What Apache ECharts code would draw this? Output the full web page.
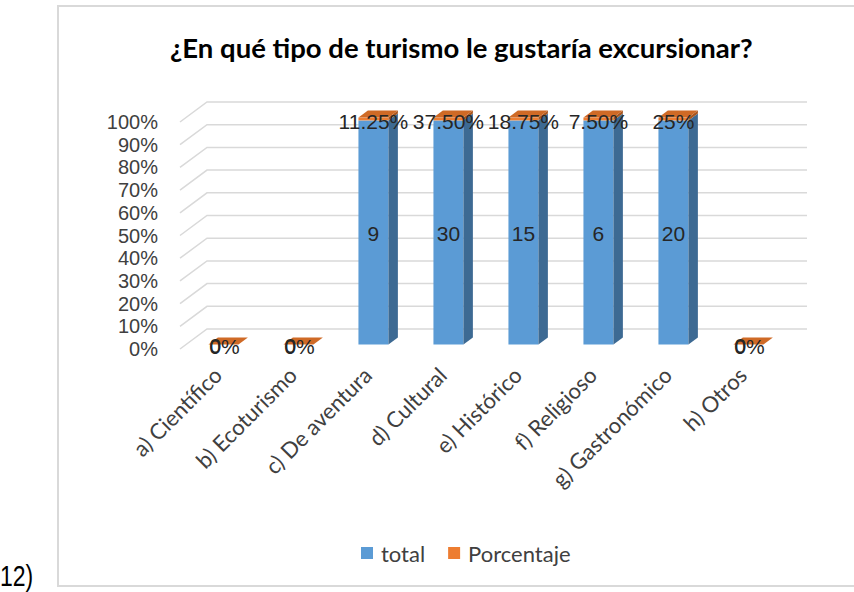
<!DOCTYPE html>
<html><head><meta charset="utf-8">
<script src="https://cdn.jsdelivr.net/npm/echarts@6/dist/echarts.min.js"></script>
<style>html,body{margin:0;padding:0;background:#fff}#c{width:854px;height:592px}</style>
</head><body><div id="c"></div>
<script>
const categories = ['a) Científico','b) Ecoturismo','c) De aventura','d) Cultural','e) Histórico','f) Religioso','g) Gastronómico','h) Otros'];
const totalValues = [0, 0, 9, 30, 15, 6, 20, 0];
const percentValues = [0, 0, 0.1125, 0.375, 0.1875, 0.075, 0.25, 0];
const percentLabels = ['0%', '0%', '11.25%', '37.50%', '18.75%', '7.50%', '25%', '0%'];
const yTicks = [0, 10, 20, 30, 40, 50, 60, 70, 80, 90, 100];

// 100% stacked shares
const totalShare = totalValues.map((t, i) => (t + percentValues[i]) > 0 ? t / (t + percentValues[i]) * 100 : 0);
const stackEnd = totalValues.map((t, i) => (t + percentValues[i]) > 0 ? 100 : 0);

const DEPTH_DX = 27, DEPTH_DY = -20;     // full floor depth projection
const FRONT = 0.22, THICK = 0.35;        // bar position within depth

function barGeom(api) {
  const i = api.value(0), s = api.value(1), e = api.value(2);
  const c0 = api.coord([i, s]), c1 = api.coord([i, e]);
  const band = api.size([1, 0])[0];
  const w = band * 0.4;
  const fx = FRONT * DEPTH_DX, fy = FRONT * DEPTH_DY;
  const dx = THICK * DEPTH_DX, dy = THICK * DEPTH_DY;
  const xl = c0[0] - w / 2 + fx, xr = xl + w;
  const yb = c0[1] + fy, yt = c1[1] + fy;
  return {xl, xr, yb, yt, dx, dy, w};
}

function makeBar(front, side, topColor, isTop) {
  return function (params, api) {
    const g = barGeom(api);
    const ch = [];
    if (g.yb - g.yt > 0.01) {
      ch.push({type: 'rect', shape: {x: g.xl, y: g.yt, width: g.w, height: g.yb - g.yt}, style: {fill: front}});
      ch.push({type: 'polygon', shape: {points: [[g.xr, g.yt], [g.xr + g.dx, g.yt + g.dy], [g.xr + g.dx, g.yb + g.dy], [g.xr, g.yb]]}, style: {fill: side}});
    }
    if (isTop) {
      ch.push({type: 'polygon', shape: {points: [[g.xl, g.yt], [g.xr, g.yt], [g.xr + g.dx, g.yt + g.dy], [g.xl + g.dx, g.yt + g.dy]]}, style: {fill: topColor}});
    }
    return {type: 'group', children: ch};
  };
}

const chart = echarts.init(document.getElementById('c'), null, {renderer: 'svg'});
const option = {
  backgroundColor: '#fff',
  animation: false,
  title: {
    text: '¿En qué tipo de turismo le gustaría excursionar?',
    left: 165, top: 28,
    textStyle: {fontFamily: 'Lato', fontWeight: 'bold', fontSize: 27.5, color: '#000'}
  },
  legend: {
    data: ['total', 'Porcentaje'],
    left: 356, top: 537,
    icon: 'rect', itemWidth: 12, itemHeight: 12, itemGap: 23,
    textStyle: {fontFamily: 'Lato', fontSize: 22, color: '#404040', padding: [0, 0, 0, 3]}
  },
  grid: {left: 180, width: 600, top: 122, height: 227},
  xAxis: {
    type: 'category', data: categories,
    axisLine: {show: false}, axisTick: {show: false},
    axisLabel: {interval: 0, rotate: 45, margin: 22, fontFamily: 'Lato', fontSize: 22, color: '#404040'}
  },
  yAxis: {
    type: 'value', min: 0, max: 100, interval: 10,
    axisLine: {show: false}, axisTick: {show: false}, splitLine: {show: false},
    axisLabel: {formatter: '{value}%', margin: 22, fontFamily: 'Liberation Sans', fontSize: 20, color: '#404040'}
  },
  graphic: [
    {type: 'rect', shape: {x: 58, y: 6, width: 830, height: 580}, style: {fill: 'none', stroke: '#d9d9d9', lineWidth: 2}, z: -10},
    {type: 'text', x: 0, y: 576, scaleY: 1.3, style: {text: '12)', x: 0, y: 0, verticalAlign: 'middle', font: '23px "Liberation Sans"', fill: '#000'}}
  ],
  series: [
    {
      type: 'custom', name: 'grid', silent: true, z: 1, clip: false,
      data: yTicks.map(v => [0, v]),
      renderItem: function (params, api) {
        const y = api.coord([0, api.value(1)])[1];
        const x0 = params.coordSys.x, w = params.coordSys.width;
        return {type: 'polyline', shape: {points: [[x0, y], [x0 + DEPTH_DX, y + DEPTH_DY], [x0 + DEPTH_DX + w, y + DEPTH_DY]]},
          style: {stroke: '#d9d9d9', lineWidth: 1.5, fill: 'none'}};
      }
    },
    {
      type: 'custom', name: 'total', z: 2, clip: false,
      itemStyle: {color: '#5B9BD5'},
      data: categories.map((c, i) => [i, 0, totalShare[i]]),
      renderItem: makeBar('#5B9BD5', '#3D6A93', '#5B9BD5', false)
    },
    {
      type: 'custom', name: 'Porcentaje', z: 3, clip: false,
      itemStyle: {color: '#ED7D31'},
      data: categories.map((c, i) => [i, totalShare[i], stackEnd[i]]),
      renderItem: makeBar('#ED7D31', '#A8561F', '#CF6A26', true)
    },
    {
      type: 'custom', name: 'labels', z: 5, clip: false, silent: true,
      data: categories.map((c, i) => [i, 0, totalShare[i], stackEnd[i]]),
      renderItem: function (params, api) {
        const i = api.value(0);
        const g = barGeom(api);
        const cx = (g.xl + g.xr) / 2;
        const yTop = api.coord([i, api.value(3)])[1] + FRONT * DEPTH_DY;
        const font = '21px "Liberation Sans"';
        const zero = totalValues[i] === 0;
        return {type: 'group', children: [
          {type: 'text', z2: 10, style: {text: String(totalValues[i]), x: cx - (zero ? 8 : 0), y: (g.yb + g.yt) / 2 + 1, align: 'center', verticalAlign: 'middle', font: font, fill: '#262626'}},
          {type: 'text', z2: 11, style: {text: percentLabels[i], x: cx + (zero ? 1 : 0), y: (g.yt + yTop) / 2 + 2, align: 'center', verticalAlign: 'middle', font: font, fill: '#262626'}}
        ]};
      }
    }
  ]
};
chart.setOption(option);
</script>
</body></html>
